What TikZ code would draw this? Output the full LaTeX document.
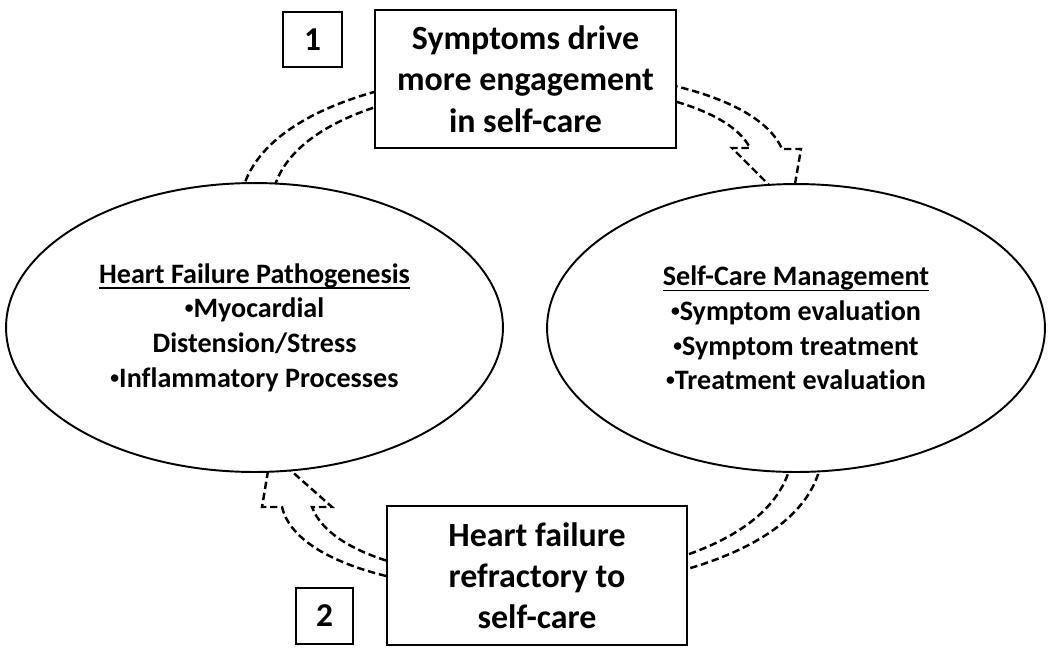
\documentclass[tikz,border=0pt]{standalone}
\usepackage{fontspec}
\setmainfont{Carlito}[Ligatures=NoCommon]
\usetikzlibrary{shapes.geometric}
\newcommand\hdrline[1]{\setbox0\hbox{#1}\rlap{\rule[-3.2pt]{\wd0}{0.9pt}}\box0}
\newcommand\bul{{\fontsize{10}{10}\selectfont\raisebox{2.2pt}{•}}}
\begin{document}
\begin{tikzpicture}[x=0.02cm,y=-0.02cm,
  oval/.style={ellipse, draw, line width=1.1pt, fill=white, inner sep=0pt, align=center,
    font=\bfseries\fontsize{16}{19.7}\selectfont},
  bigbox/.style={rectangle, draw, line width=1.3pt, fill=white, inner sep=0pt, align=center,
    font=\bfseries\fontsize{19.3}{23.5}\selectfont},
  numbox/.style={rectangle, draw, line width=0.8pt, fill=white, inner sep=0pt,
    font=\bfseries\fontsize{19}{22}\selectfont},
  dasharrow/.style={draw, line width=1.4pt, dash pattern=on 4.2pt off 2.2pt, line join=miter}]
\useasboundingbox (0,0) rectangle (1050,653);

% arrow 1 (top): pathogenesis -> self-care
\coordinate (a1os) at (242,192);
\coordinate (a1ob) at (782,149);
\coordinate (a1oh) at (801,149);
\coordinate (a1tip) at (791,207);
\coordinate (a1ih) at (732,148);
\coordinate (a1ib) at (750,148);
\coordinate (a1is) at (273,192);
\draw[dasharrow] (a1os) .. controls (280,38) and (735,40) .. (a1ob) -- (a1oh) -- (a1tip)
  -- (a1ih) -- (a1ib) .. controls (705,58) and (305,55) .. (a1is);

% arrow 2 (bottom): self-care -> pathogenesis
\coordinate (a2os) at (821,463);
\coordinate (a2ob) at (282,507);
\coordinate (a2oh) at (262,507);
\coordinate (a2tip) at (271,453);
\coordinate (a2ih) at (332,507);
\coordinate (a2ib) at (312,507);
\coordinate (a2is) at (791,463);
\draw[dasharrow] (a2os) .. controls (790,625) and (310,625) .. (a2ob) -- (a2oh) -- (a2tip)
  -- (a2ih) -- (a2ib) .. controls (350,610) and (760,610) .. (a2is);

% ellipses
\node[oval, minimum width=9.94cm, minimum height=5.78cm] (hf) at (254.5,327.5)
  {\hdrline{Heart Failure Pathogenesis}\\ \bul Myocardial\\ Distension/Stress\\ \bul Inflammatory Processes};
\node[oval, minimum width=9.96cm, minimum height=5.76cm] (sc) at (796,328)
  {\hdrline{Self-Care Management}\\ \bul Symptom evaluation\\ \bul Symptom treatment\\ \bul Treatment evaluation};

% boxes
\node[bigbox, minimum width=6.02cm, minimum height=2.76cm] (top) at (525.5,79)
  {Symptoms drive\\ more engagement\\ in self-care};
\node[bigbox, minimum width=6.0cm, minimum height=2.78cm] (bot) at (537,575.5)
  {Heart failure\\ refractory to\\ self-care};
\node[numbox, minimum width=1.18cm, minimum height=1.1cm] (n1) at (312.5,39.5) {1};
\node[numbox, minimum width=1.14cm, minimum height=1.12cm] (n2) at (324.5,616) {2};
\end{tikzpicture}
\end{document}
